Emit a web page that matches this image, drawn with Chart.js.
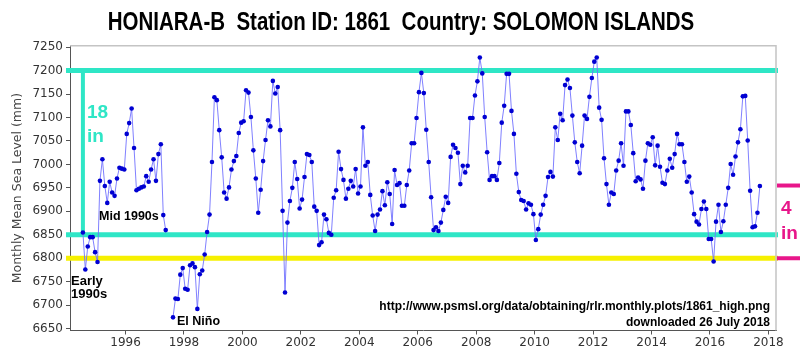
<!DOCTYPE html>
<html lang="en">
<head>
<meta charset="UTF-8">
<title>HONIARA-B Monthly Mean Sea Level</title>
<script src="https://cdn.jsdelivr.net/npm/chart.js"></script>
<style>
    html, body { margin: 0; padding: 0; background: #ffffff; }
    #wrap { width: 800px; height: 352px; }
</style>
</head>
<body>
<div id="wrap"><canvas id="chart" width="800" height="352"></canvas></div>
<script>
// monthly mean sea level (mm), first value is July 1994, null = missing month
var firstYear = 1994;
var firstMonth = 7;
var seaLevel = [
    6855, 6776, 6825, 6845, 6845, 6813, 6792, 6965, 7011, 6954,
    6918, 6963, 6940, 6933, 6970, 6993, 6991, 6989, 7065, 7088,
    7119, 7035, 6945, 6948, 6951, 6953, 6975, 6963, 6989, 7011,
    6965, 7022, 7043, 6892, 6860,
    null, null,
    6674, 6714, 6713, 6765, 6779, 6735, 6733,
    6785, 6789, 6781, 6692, 6766, 6774, 6808, 6856, 6893, 7005,
    7143, 7137, 7073, 7015, 6940, 6927, 6951, 6989, 7007, 7018,
    7067, 7089, 7092, 7158, 7153, 7101, 7030, 6970, 6897, 6946,
    7007, 7052, 7094, 7081, 7178, 7151, 7165, 7073, 6901, 6727,
    6876, 6922, 6950, 7005, 6969, 6906, 6925, 6973, 7022,
    7020, 7005, 6910, 6901, 6828, 6834, 6893, 6883, 6854, 6850,
    6929, 6945, 7027, 6990, 6967, 6927, 6948, 6965, 6953, 6990,
    6938, 6953, 7079, 6997, 7005, 6935, 6891, 6858, 6893, 6904,
    6943, 6913, 6962, 6937, 6873, 6988, 6956, 6960, 6912, 6912,
    6956, 6987, 7045, 7045, 7099, 7154, 7195, 7152, 7074, 7005,
    6930, 6860, 6866, 6858, 6876, 6903, 6931, 6918, 7016, 7042,
    7035, 7025, 6958, 6997, 6983, 6997, 7099, 7099, 7147, 7177,
    7228, 7194, 7101, 7026, 6967, 6975, 6975, 6967, 7003, 7089,
    7125, 7193, 7193, 7114, 7065, 6980, 6941, 6924, 6922, 6904,
    6917, 6914, 6894, 6839, 6862,
    6893, 6914, 6933, 6973, 6984, 6974, 7079, 7052, 7108, 7094,
    7169, 7181, 7163, 7104, 7047, 7005, 6981, 7040, 7104, 7097,
    7144, 7184, 7219, 7228, 7121, 7095, 7013, 6958, 6914, 6940,
    6937, 6987, 7008, 7045, 6997, 7113, 7113, 7084, 7024, 6964,
    6972, 6968, 6948, 7008, 7045, 7042, 7058, 6998, 7040, 6995,
    6961, 6958, 6987, 7012, 6993, 7022, 7065, 7043, 7043, 7005,
    6963, 6974, 6940, 6894, 6878, 6872, 6905, 6921, 6905, 6841,
    6841, 6793, 6878, 6914, 6856, 6879, 6914, 6950, 7001, 6978,
    7017, 7047, 7075, 7145, 7146, 7051, 6944, 6866, 6868, 6897,
    6954
];

var yTicks = [6650, 6700, 6750, 6800, 6850, 6900, 6950, 7000, 7050, 7100, 7150, 7200, 7250];
var xTicks = [1996, 1998, 2000, 2002, 2004, 2006, 2008, 2010, 2012, 2014, 2016, 2018];

// hand drawn marks on the original picture
var highLine = 7200;    // cyan, top of the 18 in band
var lowLine = 6850;     // cyan, bottom of the band
var earlyLine = 6800;   // yellow, early 1990s level
var pinkTop = 6955;     // magenta, top of the 4 in bracket

var titleText = 'HONIARA-B  Station ID: 1861  Country: SOLOMON ISLANDS';
var sourceText = 'http://www.psmsl.org/data/obtaining/rlr.monthly.plots/1861_high.png';
var dateText = 'downloaded 26 July 2018';

var points = [];
seaLevel.forEach(function (v, i) {
    points.push({ x: firstYear + (firstMonth - 1 + i + 0.5) / 12, y: v });
});

var CYAN = '#2ee6c6';
var YELLOW = '#f6f000';
var PINK = '#e8168a';

function hline(c, x1, x2, y, w, col) {
    c.beginPath();
    c.strokeStyle = col;
    c.lineWidth = w;
    c.moveTo(x1, y);
    c.lineTo(x2, y);
    c.stroke();
}

var notes = {
    id: 'notes',
    beforeDatasetsDraw: function (chart) {
        var c = chart.ctx, xs = chart.scales.x, ys = chart.scales.y;
        var right = chart.chartArea.right;
        c.save();
        hline(c, 66, right + 2, ys.getPixelForValue(earlyLine), 5, YELLOW);
        hline(c, 66, right + 2, ys.getPixelForValue(highLine), 5, CYAN);
        hline(c, 66, right + 2, ys.getPixelForValue(lowLine), 5, CYAN);
        // vertical bracket of the 18 in band
        var vx = xs.getPixelForValue(points[0].x);
        c.beginPath();
        c.strokeStyle = CYAN;
        c.lineWidth = 4;
        c.moveTo(vx, ys.getPixelForValue(highLine));
        c.lineTo(vx, ys.getPixelForValue(lowLine));
        c.stroke();
        c.restore();
    },
    afterDraw: function (chart) {
        var c = chart.ctx, ys = chart.scales.y, a = chart.chartArea;
        c.save();

        // light frame on top and right
        c.strokeStyle = '#c4c4c4';
        c.lineWidth = 1.5;
        c.beginPath();
        c.moveTo(a.left, a.top);
        c.lineTo(a.right, a.top);
        c.lineTo(a.right, a.bottom);
        c.stroke();

        // magenta 4 in bracket
        hline(c, a.right + 1, 800, ys.getPixelForValue(pinkTop), 4, PINK);
        hline(c, a.right + 1, 800, ys.getPixelForValue(earlyLine), 4, PINK);

        // title, narrow bold
        c.fillStyle = '#000';
        c.font = 'bold 25px "Liberation Sans", Arial, sans-serif';
        c.textBaseline = 'alphabetic';
        c.textAlign = 'center';
        c.save();
        c.translate(401, 30);
        c.scale(0.82, 1);
        c.fillText(titleText, 0, 0);
        c.restore();

        c.textAlign = 'left';
        c.fillStyle = CYAN;
        c.font = 'bold 19px "Liberation Sans", Arial, sans-serif';
        c.fillText('18', 87, 118);
        c.fillText('in', 87, 142);

        c.fillStyle = PINK;
        c.fillText('4', 781, 214);
        c.fillText('in', 781, 239);

        c.fillStyle = '#000';
        c.font = 'bold 12.5px "Liberation Sans", Arial, sans-serif';
        c.fillText('Mid 1990s', 99, 220);
        c.font = 'bold 13px "Liberation Sans", Arial, sans-serif';
        c.fillText('Early', 71, 285);
        c.fillText('1990s', 71, 298);
        c.font = 'bold 12.5px "Liberation Sans", Arial, sans-serif';
        c.fillText('El Niño', 177, 325);

        c.textAlign = 'right';
        c.font = 'bold 12px "Liberation Sans", Arial, sans-serif';
        c.fillText(sourceText, 770, 310);
        c.fillText(dateText, 770, 326);

        // y axis title
        c.fillStyle = '#444';
        c.font = '12.5px "DejaVu Sans", sans-serif';
        c.textAlign = 'center';
        c.textBaseline = 'middle';
        c.translate(18, (a.top + a.bottom) / 2);
        c.rotate(-Math.PI / 2);
        c.fillText('Monthly Mean Sea Level (mm)', 0, 0);
        c.restore();
    }
};

var ctx = document.getElementById('chart').getContext('2d');
var chart = new Chart(ctx, {
    type: 'line',
    data: {
        datasets: [{
            data: points,
            borderColor: '#7272ff',
            borderWidth: 0.9,
            pointRadius: 2.3,
            pointBackgroundColor: '#0000d2',
            pointBorderWidth: 0,
            spanGaps: false,
            tension: 0
        }]
    },
    options: {
        responsive: false,
        animation: false,
        events: [],
        layout: { padding: { left: 0, right: 24, top: 45.7, bottom: 0 } },
        plugins: { legend: { display: false }, tooltip: { enabled: false } },
        scales: {
            x: {
                type: 'linear',
                min: 1994.10,
                max: 2018.26,
                afterBuildTicks: function (s) { s.ticks = xTicks.map(function (v) { return { value: v }; }); },
                afterFit: function (s) { s.height = 21.5; },
                grid: { drawOnChartArea: false, tickLength: 4, color: '#555' },
                border: { color: '#555', width: 1 },
                ticks: {
                    autoSkip: false,
                    maxRotation: 0,
                    padding: 1,
                    color: '#333',
                    font: { family: 'DejaVu Sans', size: 12 },
                    callback: function (v) { return String(v); }
                }
            },
            y: {
                min: 6646,
                max: 7253,
                afterBuildTicks: function (s) { s.ticks = yTicks.map(function (v) { return { value: v }; }); },
                afterFit: function (s) { s.width = 70; },
                grid: { drawOnChartArea: false, tickLength: 4, color: '#555' },
                border: { color: '#555', width: 1 },
                ticks: {
                    padding: 3,
                    color: '#333',
                    font: { family: 'DejaVu Sans', size: 12 },
                    callback: function (v) { return String(v); }
                }
            }
        }
    },
    plugins: [notes]
});
</script>
</body>
</html>
